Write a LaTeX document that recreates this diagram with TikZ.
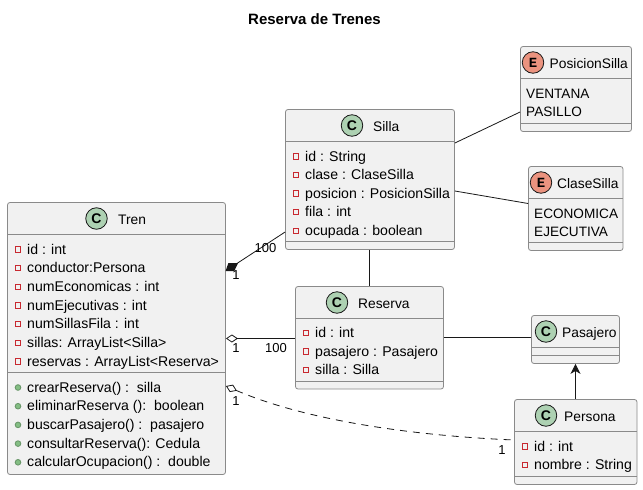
\documentclass[tikz,border=0pt]{standalone}
\usepackage{fontspec}
\setmainfont{Liberation Sans}
\newfontfamily\eiconfont{Liberation Mono}
\usetikzlibrary{arrows.meta}
\definecolor{boxfill}{HTML}{F1F1F1}
\definecolor{boxline}{HTML}{8A8A8A}
\definecolor{ink}{HTML}{181818}
\definecolor{cicon}{HTML}{ADD1B2}
\definecolor{eicon}{HTML}{EB937F}
\definecolor{privred}{HTML}{C82930}
\definecolor{pubgreen}{HTML}{84BE84}
\tikzset{
  x=1pt,y=-1pt,
  umlbox/.style={draw=boxline,fill=boxfill,rounded corners=2.5pt,line width=0.8pt,inner sep=0pt,anchor=center},
  sepline/.style={draw=boxline,line width=0.8pt},
  conn/.style={draw=ink,line width=0.8pt},
  title/.style={font=\bfseries\fontsize{15}{17}\selectfont,text=black,inner sep=0pt},
  head/.style={font=\fontsize{13.8}{16}\selectfont,text=black,inner sep=0pt,anchor=base west},
  memb/.style={font=\fontsize{14.1}{16}\selectfont,text=black,inner sep=0pt,anchor=base west},
  enumval/.style={font=\fontsize{13.6}{16}\selectfont,text=black,inner sep=0pt,anchor=base west},
  lab/.style={font=\fontsize{13}{15}\selectfont,text=black,inner sep=0pt},
  icon/.style={circle,draw=ink,line width=0.8pt,minimum size=21.5pt,inner sep=0pt,font=\bfseries\fontsize{14}{14}\selectfont},
  priv/.style={draw=privred,line width=0.9pt,rectangle,minimum size=5.2pt,inner sep=0pt},
  pub/.style={draw=pubgreen!80!black,fill=pubgreen,line width=0.9pt,circle,minimum size=5.6pt,inner sep=0pt},
}
\newcounter{mbn}
% name, x0, y0, x1, y1, header rule y, separator y
\newcommand{\umlclass}[7]{%
  \pgfmathsetlengthmacro{\bw}{#4-#2}\pgfmathsetlengthmacro{\bh}{#5-#3}%
  \node[umlbox,minimum width=\bw,minimum height=\bh] (#1) at ({(#2+#4)/2},{(#3+#5)/2}) {};
  \draw[sepline] (#2,#6) -- (#4,#6);
  \draw[sepline] (#2,#7) -- (#4,#7);
}
\newcommand{\mpriv}[3]{\stepcounter{mbn}%
  \node[priv] (vis\arabic{mbn}) at (#1,#2-4.5) {};
  \node[memb] (txt\arabic{mbn}) at (#1+9,#2) {#3};}
\newcommand{\mpub}[3]{\stepcounter{mbn}%
  \node[pub] (vis\arabic{mbn}) at (#1,#2-4.5) {};
  \node[memb] (txt\arabic{mbn}) at (#1+9,#2) {#3};}
\newcommand{\mtext}[3]{\stepcounter{mbn}%
  \node[enumval] (txt\arabic{mbn}) at (#1,#2) {#3};}
\begin{document}
\begin{tikzpicture}
\useasboundingbox (0,0) rectangle (643,490);
\fill[white] (0,0) rectangle (643,490);
\node[title] (ttl) at (314.5,19.5) {Reserva de Trenes};

% classes
\umlclass{tren}{7.5}{202.5}{225.5}{474.5}{234.5}{372.5}
\umlclass{silla}{285.5}{109.5}{454.5}{249.5}{141.5}{241.5}
\umlclass{reserva}{295.5}{286.5}{443.5}{389}{318.5}{381}
\umlclass{posicion}{520.5}{46.5}{631.5}{131.5}{78.5}{123.5}
\umlclass{clase}{528.5}{166.5}{623}{250.5}{198.5}{242.5}
\umlclass{pasajero}{531.5}{315.5}{619.5}{363.5}{347.5}{355.5}
\umlclass{persona}{514.5}{399.5}{637}{484.5}{431.5}{476}

% icons and names
\node[icon,fill=cicon] (ic1) at (96.5,218.5) {C};
\node[head] (h1) at (118,224) {Tren};
\node[icon,fill=cicon] (ic2) at (352,125.5) {C};
\node[head] (h2) at (373,131) {Silla};
\node[icon,fill=cicon] (ic3) at (337,302.5) {C};
\node[head] (h3) at (358,308) {Reserva};
\node[icon,fill=eicon] (ic4) at (533,62.5) {\eiconfont E};
\node[head] (h4) at (549.5,68) {PosicionSilla};
\node[icon,fill=eicon] (ic5) at (541,182.5) {\eiconfont E};
\node[head] (h5) at (557,188) {ClaseSilla};
\node[icon,fill=cicon] (ic6) at (546,331.5) {C};
\node[head] (h6) at (562,337) {Pasajero};
\node[icon,fill=cicon] (ic7) at (546,415.5) {C};
\node[head] (h7) at (564,421) {Persona};

% Tren members
\mpriv{18}{254}{id : int}
\mpriv{18}{272.7}{conductor:Persona}
\mpriv{18}{291.3}{numEconomicas : int}
\mpriv{18}{310}{numEjecutivas : int}
\mpriv{18}{328.7}{numSillasFila : int}
\mpriv{18}{347.3}{sillas: ArrayList<Silla>}
\mpriv{18}{366}{reservas : ArrayList<Reserva>}
\mpub{18}{392}{crearReserva() :\ \ silla}
\mpub{18}{410.7}{eliminarReserva ():\ \ boolean}
\mpub{18}{429.4}{buscarPasajero() :\ \ pasajero}
\mpub{18}{448.1}{consultarReserva(): Cedula}
\mpub{18}{466.8}{calcularOcupacion() :\ \ double}

% Silla members
\mpriv{296}{161}{id : String}
\mpriv{296}{179.5}{clase : ClaseSilla}
\mpriv{296}{198}{posicion : PosicionSilla}
\mpriv{296}{216.7}{fila : int}
\mpriv{296}{235.3}{ocupada : boolean}

% Reserva members
\mpriv{306}{337.5}{id : int}
\mpriv{306}{356}{pasajero : Pasajero}
\mpriv{306}{374.5}{silla : Silla}

% Persona members
\mpriv{525}{451}{id : int}
\mpriv{525}{469.5}{nombre : String}

% enum values
\mtext{526}{98}{VENTANA}
\mtext{526}{116}{PASILLO}
\mtext{534}{218}{ECONOMICA}
\mtext{534}{236}{EJECUTIVA}

% connectors
\draw[conn] ([yshift=36.5pt]silla.east) -- ([yshift=-23pt]posicion.west);
\draw[conn] ([yshift=-11.5pt]silla.east) -- ([yshift=5pt]clase.west);
\draw[conn] (reserva.north |- silla.south) -- (reserva.north);
\draw[conn] (reserva.east) -- (reserva.east -| pasajero.west);
\draw[conn,-{Stealth[length=10pt,width=10pt,inset=3pt]}] (pasajero.south |- persona.north) -- (pasajero.south);
\draw[conn] ([xshift=11pt,yshift=75pt]tren.east) -- ([yshift=-52.5pt]silla.west);
\fill[ink] (228.3,263.2) -- (238,263.2) -- (234.3,271) -- (225.6,271) -- cycle;
\draw[conn,{Diamond[open,length=12pt,width=8pt,fill=white]}-] (tren.east) -- (tren.east -| reserva.west);
\draw[conn,dash pattern=on 7pt off 6pt,{Diamond[open,length=12pt,width=8pt,fill=white]}-] ([yshift=-47.5pt]tren.east) .. controls (310,422) and (420,436) .. ([yshift=2pt]persona.west);

% multiplicities
\node[lab] (m1) at (265.5,248) {100};
\node[lab] (m2) at (236,275) {1};
\node[lab] (m3) at (236,348) {1};
\node[lab] (m4) at (276,348) {100};
\node[lab] (m5) at (236,401) {1};
\node[lab] (m6) at (502,450) {1};
\end{tikzpicture}
\end{document}
